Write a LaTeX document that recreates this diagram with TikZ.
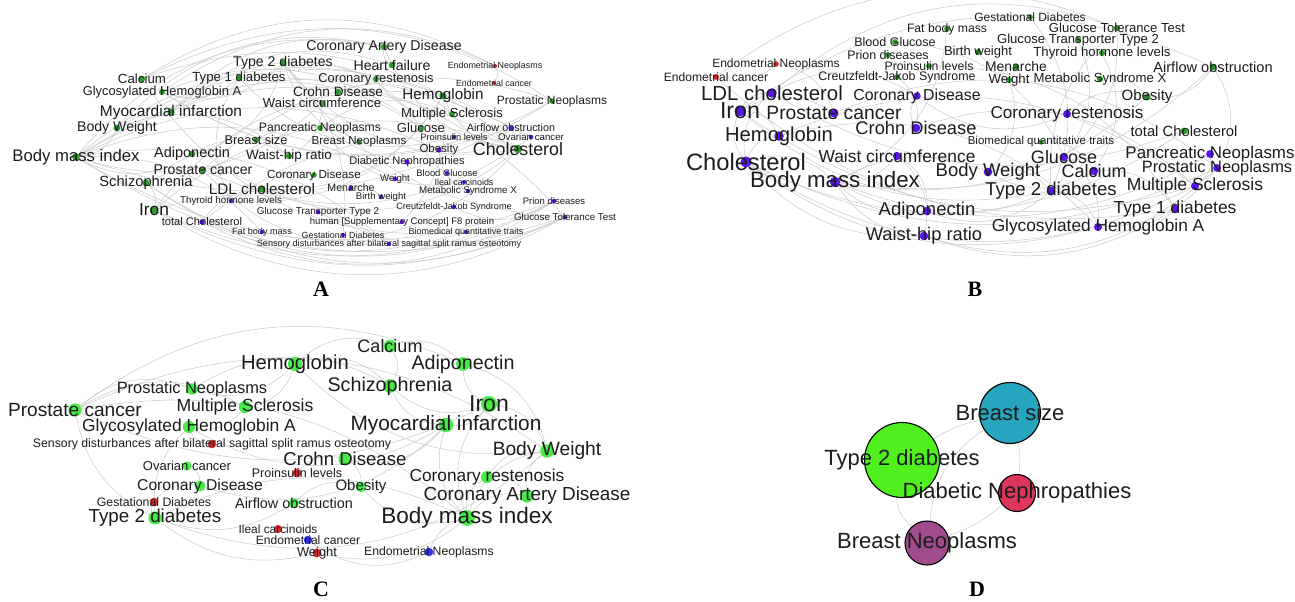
\documentclass[tikz,border=0pt]{standalone}
\usepackage{fontspec}
\setmainfont{Liberation Sans}
\newfontfamily\tagfont{Liberation Serif}
\usepackage{xcolor}
\definecolor{cGreenA}{HTML}{2E9A2E}
\definecolor{cBlueA}{HTML}{5A14EC}
\definecolor{cRed}{HTML}{D92B2B}
\definecolor{cGreenC}{HTML}{48EA48}
\definecolor{cBlueC}{HTML}{3434E6}
\definecolor{cEdge}{HTML}{C9C9C9}
\definecolor{cText}{HTML}{1C1C1C}
\definecolor{cDGreen}{HTML}{50F01E}
\definecolor{cDTeal}{HTML}{28A5BE}
\definecolor{cDRed}{HTML}{DC375A}
\definecolor{cDPurple}{HTML}{A04B8C}
\usepackage{tikz}
\usetikzlibrary{backgrounds}
\tikzset{
  net-dot/.style={circle,inner sep=0pt,draw=none},
  net-label/.style={inner sep=0pt,text=cText},
  net-edge/.style={draw=cEdge,line width=0.5pt},
  bubble/.style={circle,draw=black,line width=1.1pt,inner sep=0pt},
  panel-tag/.style={inner sep=0pt,font=\tagfont\fontsize{22}{22}\selectfont\bfseries},
}

\begin{document}
\begin{tikzpicture}[x=1pt,y=-1pt]
  \useasboundingbox (0,0) rectangle (1295,602);

  % A
  \foreach \nm/\px/\py/\fs/\col/\lab in {
    cad/384/47/14.2/cGreenA/Coronary Artery Disease,
    t2d/283/63/14.1/cGreenA/Type 2 diabetes,
    hf/392/65/14.1/cGreenA/Heart failure,
    en/495/66/8.9/cRed/Endometrial Neoplasms,
    ca/142/79/13.3/cGreenA/Calcium,
    t1d/239/78/13.2/cGreenA/Type 1 diabetes,
    cr/376/79/12.9/cGreenA/Coronary restenosis,
    ec/494/83/8.8/cRed/Endometrial cancer,
    hba/162/92/12.9/cGreenA/Glycosylated Hemoglobin A,
    crohn/338/92/13.6/cGreenA/Crohn Disease,
    hb/443/96/15.2/cGreenA/Hemoglobin,
    pros/552/101/12/cGreenA/Prostatic Neoplasms,
    wc/322/103/13.1/cGreenA/Waist circumference,
    mi/171/112/15.5/cGreenA/Myocardial infarction,
    ms/452/114/13.1/cGreenA/Multiple Sclerosis,
    bw/117/128/14.1/cGreenA/Body Weight,
    pn/320/128/12.2/cGreenA/Pancreatic Neoplasms,
    glu/421/128/13.1/cGreenA/Glucose,
    ao/511/128/10.8/cBlueA/Airflow obstruction,
    pil/454/137/9.3/cBlueA/Proinsulin levels,
    oc/531/137/9.7/cBlueA/Ovarian cancer,
    bs/256/140/12.7/cGreenA/Breast size,
    bn/359/142/11.6/cGreenA/Breast Neoplasms,
    chol/518/149/17.8/cGreenA/Cholesterol,
    ob/439/150/11.5/cBlueA/Obesity,
    adipo/192/154/14.5/cGreenA/Adiponectin,
    whr/289/156/13.5/cGreenA/Waist-hip ratio,
    bmi/76/157/16.7/cGreenA/Body mass index,
    dn/407/162/11.1/cBlueA/Diabetic Nephropathies,
    pc/203/170/14.1/cGreenA/Prostate cancer,
    bg/447/173/9.4/cBlueA/Blood Glucose,
    cd/314/175/11.7/cGreenA/Coronary Disease,
    wt/395/179/9.6/cBlueA/Weight,
    ic/464/182/8.9/cBlueA/Ileal carcinoids,
    schz/146/183/14.7/cGreenA/Schizophrenia,
    men/351/188/10.6/cBlueA/Menarche,
    ldl/262/189/15.3/cGreenA/LDL cholesterol,
    msx/468/191/9.7/cBlueA/Metabolic Syndrome X,
    birth/381/197/9.6/cBlueA/Birth weight,
    thy/231/201/9.8/cBlueA/Thyroid hormone levels,
    prion/554/201/9.5/cBlueA/Prion diseases,
    cjs/454/207/9.1/cBlueA/Creutzfeldt-Jakob Syndrome,
    iron/154/210/17.4/cGreenA/Iron,
    glut/318/212/9.9/cBlueA/Glucose Transporter Type 2,
    gtt/565/217/9.8/cBlueA/Glucose Tolerance Test,
    tc/202/222/11.1/cBlueA/total Cholesterol,
    f8/402/222/9.5/cBlueA/{human [Supplementary Concept] F8 protein},
    fbm/262/232/9.1/cBlueA/Fat body mass,
    bqt/466/232/9/cBlueA/Biomedical quantitative traits,
    gd/343/235/8.9/cBlueA/Gestational Diabetes,
    sens/389/244/9.07/cBlueA/Sensory disturbances after bilateral sagittal split ramus osteotomy}{
    \node[net-dot,fill=\col,minimum size=\fs*0.47pt] (A-\nm) at (\px,\py) {};
    \node[net-label,font={\fontsize{\fs}{\fs}\selectfont}] (A-\nm-t) at (A-\nm) {\lab};
  }
  \node[panel-tag] (tagA) at (321,289) {A};

  % B
  \foreach \nm/\px/\py/\fs/\col/\lab in {
    gd/1030/17/12/cGreenA/Gestational Diabetes,
    gtt/1117/28/13.1/cGreenA/Glucose Tolerance Test,
    fbm/947/29/12.2/cGreenA/Fat body mass,
    glut/1078/40/13.1/cGreenA/Glucose Transporter Type 2,
    bg/895/42/12.5/cGreenA/Blood Glucose,
    birth/978/52/13/cGreenA/Birth weight,
    thy/1102/53/13.2/cGreenA/Thyroid hormone levels,
    prion/888/55/12.4/cGreenA/Prion diseases,
    en/776/64/12/cRed/Endometrial Neoplasms,
    pil/929/66/12.3/cGreenA/Proinsulin levels,
    men/1016/67/13.9/cGreenA/Menarche,
    ao/1213/67/14.6/cGreenA/Airflow obstruction,
    ec/716/77/12.1/cRed/Endometrial cancer,
    cjs/897/77/12.4/cGreenA/Creutzfeldt-Jakob Syndrome,
    msx/1100/79/13.2/cGreenA/Metabolic Syndrome X,
    wt/1009/80/13.2/cGreenA/Weight,
    ldl/772/93/20.4/cBlueA/LDL cholesterol,
    cd/917/96/15.9/cBlueA/Coronary Disease,
    ob/1147/97/15/cGreenA/Obesity,
    iron/740/111/23.2/cBlueA/Iron,
    pc/834/113/19.3/cBlueA/Prostate cancer,
    cr/1067/114/17.1/cBlueA/Coronary restenosis,
    crohn/916/128/18.3/cBlueA/Crohn Disease,
    tc/1184/131/14.8/cGreenA/total Cholesterol,
    hb/779/136/20.2/cBlueA/Hemoglobin,
    bqt/1041/142/11.5/cGreenA/Biomedical quantitative traits,
    wc/897/156/17.4/cBlueA/Waist circumference,
    glu/1064/157/18/cBlueA/Glucose,
    pn/1210/154/16.9/cBlueA/Pancreatic Neoplasms,
    chol/746/162/23.7/cBlueA/Cholesterol,
    pros/1217/168/16.4/cBlueA/Prostatic Neoplasms,
    bw/988/172/18.5/cBlueA/Body Weight,
    ca/1094/171/18/cBlueA/Calcium,
    bmi/835/182/22.3/cBlueA/Body mass index,
    ms/1195/186/17.5/cBlueA/Multiple Sclerosis,
    t2d/1051/191/18.6/cBlueA/Type 2 diabetes,
    t1d/1175/209/17.4/cBlueA/Type 1 diabetes,
    adipo/927/211/18.5/cBlueA/Adiponectin,
    hba/1098/227/17.3/cBlueA/Glycosylated Hemoglobin A,
    whr/924/236/18.3/cBlueA/Waist-hip ratio}{
    \node[net-dot,fill=\col,minimum size=\fs*0.47pt] (B-\nm) at (\px,\py) {};
    \node[net-label,font={\fontsize{\fs}{\fs}\selectfont}] (B-\nm-t) at (B-\nm) {\lab};
  }
  \node[panel-tag] (tagB) at (975,289) {B};

  % C
  \foreach \nm/\px/\py/\fs/\col/\lab in {
    ca/390/346/18/cGreenC/Calcium,
    hb/295/364/20.2/cGreenC/Hemoglobin,
    adipo/463/364/19.7/cGreenC/Adiponectin,
    schz/390/386/19.7/cGreenC/Schizophrenia,
    pros/192/389/16.4/cGreenC/Prostatic Neoplasms,
    iron/489/404/23/cGreenC/Iron,
    ms/245/407/17.6/cGreenC/Multiple Sclerosis,
    pc/75/410/19.1/cGreenC/Prostate cancer,
    mi/446/425/20.8/cGreenC/Myocardial infarction,
    hba/189/427/17.4/cGreenC/Glycosylated Hemoglobin A,
    sens/212/444/12.3/cRed/Sensory disturbances after bilateral sagittal split ramus osteotomy,
    bw/547/451/19.2/cGreenC/Body Weight,
    crohn/345/459/18.6/cGreenC/Crohn Disease,
    oc/187/466/13/cGreenC/Ovarian cancer,
    pil/297/473/12.5/cRed/Proinsulin levels,
    cr/487/477/17.3/cGreenC/Coronary restenosis,
    cd/200/486/15.7/cGreenC/Coronary Disease,
    ob/361/487/15/cGreenC/Obesity,
    cad/527/496/18.9/cGreenC/Coronary Artery Disease,
    gd/154/502/12.3/cRed/Gestational Diabetes,
    ao/294/503/14.4/cGreenC/Airflow obstruction,
    t2d/155/518/18.8/cGreenC/Type 2 diabetes,
    bmi/467/518/22.5/cGreenC/Body mass index,
    ic/278/529/11.9/cRed/Ileal carcinoids,
    ec/308/540/12.1/cBlueC/Endometrial cancer,
    en/429/552/12.2/cBlueC/Endometrial Neoplasms,
    wt/317/553/12.9/cRed/Weight}{
    \node[net-dot,fill=\col,minimum size=\fs*0.7pt] (C-\nm) at (\px,\py) {};
    \node[net-label,font={\fontsize{\fs}{\fs}\selectfont}] (C-\nm-t) at (C-\nm) {\lab};
  }
  \node[panel-tag] (tagC) at (321,589) {C};

  % D
  \node[bubble,fill=cDGreen,minimum size=75pt] (D-t2d) at (902,460) {};
  \node[bubble,fill=cDTeal,minimum size=61pt] (D-bs) at (1010,413) {};
  \node[bubble,fill=cDRed,minimum size=37pt] (D-dn) at (1017,493) {};
  \node[bubble,fill=cDPurple,minimum size=44pt] (D-bn) at (927,543) {};
  \foreach \nm/\lab in {t2d/Type 2 diabetes,bs/Breast size,
    dn/Diabetic Nephropathies,bn/Breast Neoplasms}
    \node[net-label,font={\fontsize{22}{22}\selectfont}] (D-\nm-t) at (D-\nm) {\lab};
  \node[panel-tag] (tagD) at (977,589) {D};

  % edges
  \begin{scope}[on background layer]
    \foreach \u/\v in {bmi/chol,bmi/hb,bmi/cad,iron/chol,iron/hb,chol/ldl,chol/hb,
      chol/cad,chol/t2d,hb/ldl,t2d/hba,t2d/glu,t2d/adipo,t1d/hba,ca/pros,ca/chol,
      hba/glu,mi/cad,mi/hf,mi/cr,bw/bmi,bw/whr,adipo/whr,adipo/bmi,pc/pros,schz/ldl,
      schz/iron,ldl/cd,crohn/ms,wc/whr,wc/bmi,bs/bn,pn/ms,en/ec,oc/pc,prion/cjs,
      men/birth,bqt/ca,thy/t1d,ms/cr,hf/cad,ao/ob,msx/ob,bg/glu,dn/t2d,ic/pn,
      pil/t1d,ob/chol,pros/hba,hba/en,bw/cad,bmi/oc,bw/ao,ca/en,gtt/iron,
      prion/tc,gtt/schz,chol/fbm,hb/thy,mi/glu}
      \draw[net-edge] (A-\u) to[bend left=30] (A-\v);
    \foreach \u/\v in {bmi/gtt,iron/gtt,iron/prion,ldl/tc,chol/tc,t2d/gtt,glut/gtt,
      sens/bmi,sens/iron,f8/hb,fbm/bmi,gd/t2d,wt/bmi,ob/bmi,gtt/t1d,tc/prion,
      schz/bqt,bmi/pros,pc/sens,bmi/prion,hba/ao}
      \draw[net-edge] (A-\u) to[bend right=25] (A-\v);

    \foreach \u/\v in {chol/bmi,chol/ldl,chol/hb,chol/iron,iron/ldl,iron/hb,iron/pc,
      ldl/cd,hb/hba,hb/ms,pc/pros,crohn/ms,crohn/cd,wc/whr,wc/adipo,glu/t2d,glu/hba,
      ca/bw,ca/t1d,bw/t2d,t2d/hba,t2d/adipo,t1d/hba,cr/cd,cr/ob,pn/ms,en/ec,en/pc,
      bg/glu,prion/cjs,cjs/crohn,pil/t1d,men/birth,thy/ca,msx/ob,ao/ob,wt/bw,bqt/ca,
      glut/glu,tc/chol,ao/pros,ldl/gtt,gd/t2d,fbm/bmi,iron/ao,ec/gtt,pros/whr,
      ms/chol}
      \draw[net-edge] (B-\u) to[bend left=30] (B-\v);
    \foreach \u/\v in {chol/whr,chol/hba,chol/pros,iron/t2d,iron/ms,bmi/whr,bmi/adipo,
      bmi/wc,bmi/t2d,bmi/ao,bmi/ob,bmi/pn,ldl/tc,glu/gtt,bw/bmi,gtt/t2d,whr/t1d,
      hba/pros,ec/t1d}
      \draw[net-edge] (B-\u) to[bend right=25] (B-\v);

    \foreach \u/\v in {bmi/cad,bmi/cr,bmi/iron,bmi/mi,bmi/bw,bmi/ob,iron/mi,
      iron/adipo,iron/schz,iron/bw,mi/schz,mi/crohn,mi/cd,mi/hba,hb/schz,hb/pros,
      hb/ms,hb/ca,ca/schz,ca/adipo,pc/pros,pc/ms,ms/hba,sens/hba,oc/cd,pil/crohn,
      cd/t2d,ao/ob,ic/ec,ec/wt,en/ec,cr/cad,cr/bw,cad/bw,crohn/ob,adipo/bw,
      pros/schz,gd/cd,pc/bw,pc/adipo,bw/t2d}
      \draw[net-edge] (C-\u) to[bend left=30] (C-\v);
    \foreach \u/\v in {bmi/t2d,bmi/en,bmi/pc,pc/t2d,hba/t2d,gd/t2d,wt/bmi,t2d/ao,
      t2d/wt,pc/iron,hb/bw}
      \draw[net-edge] (C-\u) to[bend right=25] (C-\v);

    \foreach \u/\v in {t2d/bs,bs/dn,dn/bn}
      \draw[net-edge] (D-\u) to[bend left=10] (D-\v);
    \foreach \u/\v in {t2d/bn,bs/bn}
      \draw[net-edge] (D-\u) to[bend right=25] (D-\v);
  \end{scope}
\end{tikzpicture}
\end{document}
